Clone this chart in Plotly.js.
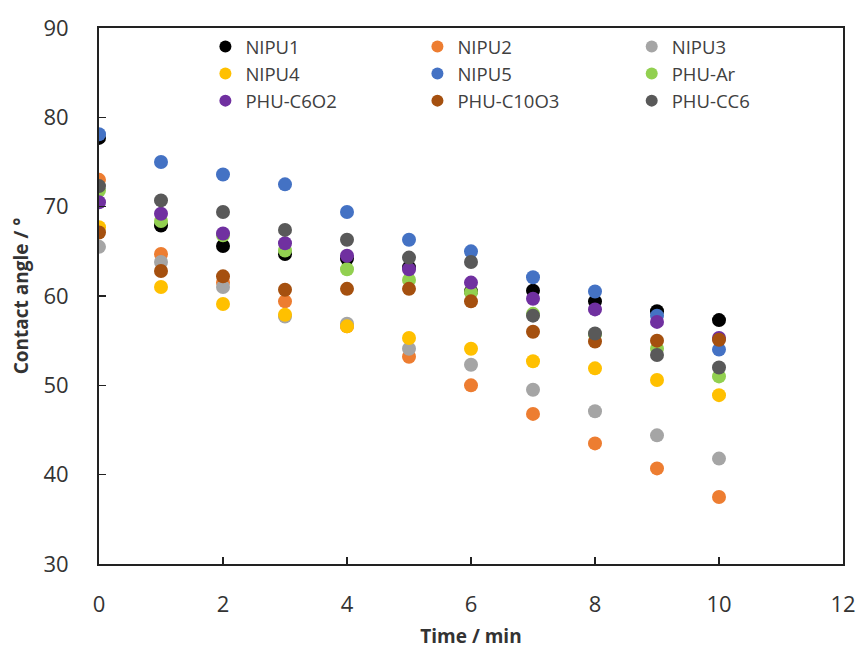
<!DOCTYPE html>
<html>
<head>
<meta charset="utf-8">
<script src="https://cdn.plot.ly/plotly-3.0.1.min.js"></script>
<style>html,body{margin:0;padding:0;background:#fff;}#chart{width:861px;height:652px;}</style>
</head>
<body>
<div id="chart"></div>
<script>
const time = [0, 1, 2, 3, 4, 5, 6, 7, 8, 9, 10];
const seriesNames = ["NIPU1", "NIPU2", "NIPU3", "NIPU4", "NIPU5", "PHU-Ar", "PHU-C6O2", "PHU-C10O3", "PHU-CC6"];
const nipu1 = [77.7, 67.9, 65.6, 64.7, 64.2, 63.2, 60.5, 60.6, 59.4, 58.3, 57.3];
const nipu2 = [73.0, 64.7, 61.5, 59.4, 56.6, 53.2, 50.0, 46.8, 43.5, 40.7, 37.5];
const nipu3 = [65.5, 63.8, 61.0, 57.7, 56.9, 54.1, 52.3, 49.5, 47.1, 44.4, 41.8];
const nipu4 = [67.7, 61.0, 59.1, 57.9, 56.6, 55.3, 54.1, 52.7, 51.9, 50.6, 48.9];
const nipu5 = [78.1, 75.0, 73.6, 72.5, 69.4, 66.3, 65.0, 62.1, 60.5, 57.8, 54.0];
const phuAr = [71.8, 68.4, 66.8, 65.1, 63.0, 61.8, 60.4, 58.0, 55.7, 54.1, 51.0];
const phuC6O2 = [70.5, 69.2, 67.0, 65.9, 64.5, 63.0, 61.5, 59.7, 58.5, 57.1, 55.3];
const phuC10O3 = [67.1, 62.8, 62.2, 60.7, 60.8, 60.8, 59.4, 56.0, 54.9, 55.0, 55.1];
const phuCC6 = [72.3, 70.7, 69.4, 67.4, 66.3, 64.3, 63.8, 57.8, 55.8, 53.4, 52.0];
const xTicks = [0, 2, 4, 6, 8, 10, 12];
const yTicks = [30, 40, 50, 60, 70, 80, 90];

const values = [nipu1, nipu2, nipu3, nipu4, nipu5, phuAr, phuC6O2, phuC10O3, phuCC6];
const colors = ["#000000", "#ED7D31", "#A5A5A5", "#FFC000", "#4472C4", "#92D050", "#7030A0", "#A5500F", "#595959"];
const legendOf = ["legend", "legend2", "legend3", "legend", "legend2", "legend3", "legend", "legend2", "legend3"];

const traces = seriesNames.map((n, i) => ({
  type: "scatter", mode: "markers", name: n, x: time, y: values[i],
  marker: {color: colors[i], size: 14},
  legend: legendOf[i], hoverinfo: "skip"
}));

const legBase = {
  orientation: "v", yanchor: "top", y: 1.0, xanchor: "left",
  bgcolor: "rgba(0,0,0,0)", itemsizing: "constant",
  font: {family: "Open Sans, sans-serif", size: 18.5, color: "#404040"},
  tracegroupgap: 0, traceorder: "normal"
};

const layout = {
  width: 861, height: 652,
  margin: {l: 99, r: 18, t: 28, b: 88, pad: 0},
  paper_bgcolor: "#fff", plot_bgcolor: "#fff",
  showlegend: true,
  legend: Object.assign({}, legBase, {x: 0.143}),
  legend2: Object.assign({}, legBase, {x: 0.428}),
  legend3: Object.assign({}, legBase, {x: 0.716}),
  xaxis: {
    range: [0, 12], tickvals: xTicks, ticktext: xTicks.map(String),
    ticks: "inside", ticklen: 7, tickwidth: 1.5, tickcolor: "#222",
    showline: true, linecolor: "#222", linewidth: 2, mirror: true,
    showgrid: false, zeroline: false,
    tickfont: {family: "Open Sans, sans-serif", size: 22, color: "#333"},
    ticklabelstandoff: 20,
    title: {text: "<b>Time / min</b>", font: {family: "Open Sans, sans-serif", size: 19, color: "#333"}, standoff: 12}
  },
  yaxis: {
    range: [30, 90], tickvals: yTicks, ticktext: yTicks.map(String),
    ticks: "inside", ticklen: 7, tickwidth: 1.5, tickcolor: "#222",
    showline: true, linecolor: "#222", linewidth: 2, mirror: true,
    showgrid: false, zeroline: false,
    tickfont: {family: "Open Sans, sans-serif", size: 22, color: "#333"},
    ticklabelstandoff: 24,
    title: {text: "<b>Contact angle / °</b>", font: {family: "Open Sans, sans-serif", size: 19, color: "#333"}, standoff: 10}
  }
};

Plotly.newPlot("chart", traces, layout, {displayModeBar: false, staticPlot: true});
</script>
</body>
</html>
